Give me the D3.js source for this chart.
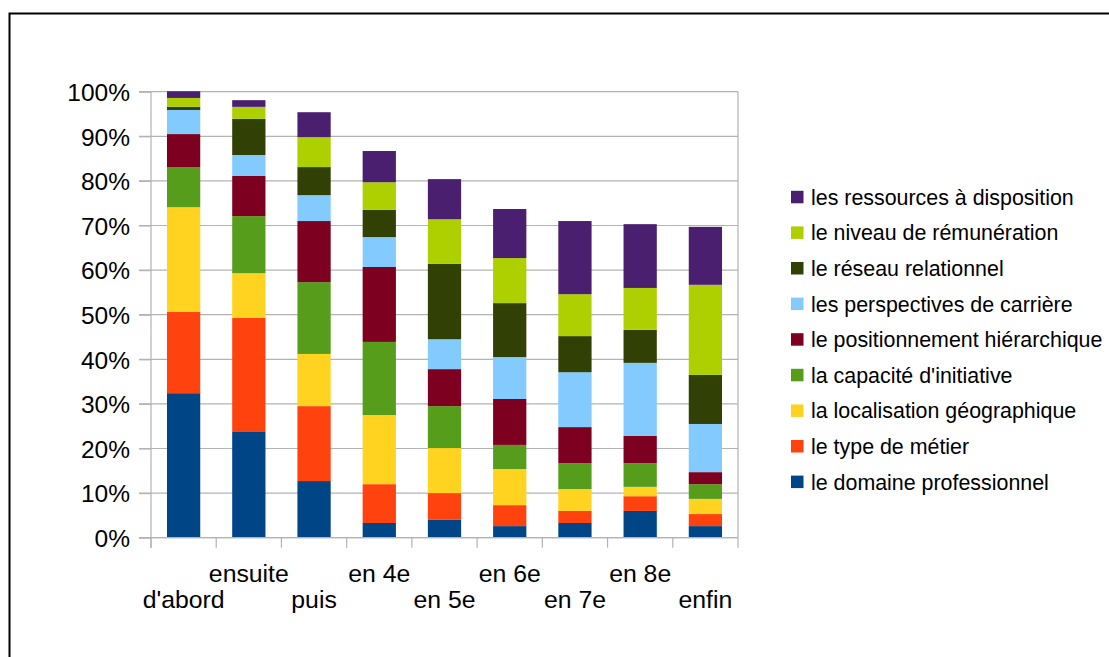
<!DOCTYPE html>
<html><head><meta charset="utf-8">
<script src="https://cdn.jsdelivr.net/npm/d3@7"></script>
<style>body{margin:0;background:#fff}svg{display:block}text{font-family:"Liberation Sans",Arial,sans-serif;fill:#000}</style>
</head><body>
<svg id="c" width="1109" height="657"></svg>
<script>
const categories = ["d'abord","ensuite","puis","en 4e","en 5e","en 6e","en 7e","en 8e","enfin"];
const seriesNames = ["le domaine professionnel","le type de métier","la localisation géographique","la capacité d'initiative","le positionnement hiérarchique","les perspectives de carrière","le réseau relationnel","le niveau de rémunération","les ressources à disposition"];
const seriesColors = ["#004586","#ff420e","#ffd320","#579d1c","#7e0021","#83caff","#314004","#aecf00","#4b1f6f"];
// values in % per series, per category
const domaine      = [32.4, 23.7, 12.7, 3.3, 4.0, 2.6, 3.3, 6.0, 2.6];
const typeMetier   = [18.2, 25.6, 16.8, 8.7, 6.0, 4.7, 2.7, 3.3, 2.7];
const localisation = [23.5, 10.0, 11.7, 15.5, 10.1, 8.1, 4.9, 2.1, 3.4];
const initiative   = [9.0, 12.8, 16.1, 16.4, 9.4, 5.4, 5.8, 5.3, 3.3];
const positionnement = [7.4, 9.0, 13.7, 16.8, 8.3, 10.3, 8.1, 6.1, 2.7];
const perspectives = [5.4, 4.7, 5.8, 6.7, 6.7, 9.4, 12.3, 16.4, 10.8];
const reseau       = [0.7, 8.1, 6.3, 6.1, 16.9, 12.1, 8.1, 7.4, 11.0];
const remuneration = [2.0, 2.7, 6.7, 6.2, 10.0, 10.1, 9.4, 9.4, 20.2];
const ressources   = [1.5, 1.5, 5.6, 7.0, 9.0, 11.0, 16.4, 14.3, 13.0];
const yTicks = [0,10,20,30,40,50,60,70,80,90,100];

const seriesValues = [domaine,typeMetier,localisation,initiative,positionnement,perspectives,reseau,remuneration,ressources];
const table = categories.map((c,i)=>{const o={cat:c}; seriesNames.forEach((s,j)=>o[s]=seriesValues[j][i]); return o;});

const svg = d3.select("#c");
const L=151, R=738, T=91.7, B=537.7;
const x = d3.scaleBand().domain(categories).range([L,R]).padding(0);
const y = d3.scaleLinear().domain([0,100]).range([B,T]);
const color = d3.scaleOrdinal().domain(seriesNames).range(seriesColors);

// outer frame
svg.append("path").attr("d","M9.5,700 V13.5 H1120").attr("fill","none").attr("stroke","#000").attr("stroke-width",2);

// gridlines
svg.append("g").selectAll("line").data(yTicks).join("line")
  .attr("x1",L-12).attr("x2",R).attr("y1",d=>y(d)).attr("y2",d=>y(d))
  .attr("stroke","#b3b3b3").attr("stroke-width",1.2);
// right border
svg.append("line").attr("x1",R).attr("x2",R).attr("y1",T).attr("y2",B).attr("stroke","#b3b3b3").attr("stroke-width",1.2);

// bars
const stack = d3.stack().keys(seriesNames)(table);
const bw = x.bandwidth()*0.51;
svg.append("g").selectAll("g").data(stack).join("g").attr("fill",d=>color(d.key))
  .selectAll("rect").data(d=>d).join("rect")
  .attr("x",d=>x(d.data.cat)+(x.bandwidth()-bw)/2).attr("width",bw)
  .attr("y",d=>y(d[1])).attr("height",d=>y(d[0])-y(d[1]));

// y axis
const yAxis = d3.axisLeft(y).tickValues(yTicks).tickFormat(d=>d+"%").tickSize(12).tickPadding(9);
const gy = svg.append("g").attr("transform",`translate(${L},0)`).call(yAxis);
gy.select(".domain").attr("stroke","#b3b3b3").attr("stroke-width",1.2).attr("d",`M0,${T}V${B+10}`);
gy.selectAll(".tick line").attr("stroke","#b3b3b3").attr("stroke-width",1.2);
gy.selectAll(".tick text").attr("font-size",24.5).attr("font-family","Liberation Sans, Arial, sans-serif").attr("dy","0.36em").attr("fill","#000");

// x axis
const boundaries = d3.range(categories.length+1).map(i=>L+i*x.step());
svg.append("g").selectAll("line").data(boundaries).join("line")
  .attr("x1",d=>d).attr("x2",d=>d).attr("y1",B).attr("y2",B+10)
  .attr("stroke","#b3b3b3").attr("stroke-width",1.2);
svg.append("line").attr("x1",L).attr("x2",R).attr("y1",B).attr("y2",B).attr("stroke","#b3b3b3").attr("stroke-width",1.2);
svg.append("g").selectAll("text").data(categories).join("text")
  .attr("x",d=>x(d)+x.bandwidth()/2).attr("y",(d,i)=>i%2===0?608.3:581.7)
  .attr("text-anchor","middle").attr("font-size",24.8).text(d=>d);

// legend
const leg = svg.append("g");
const legendOrder = seriesNames.slice().reverse();
legendOrder.forEach((s,i)=>{
  const cy = 197 + i*35.6;
  leg.append("rect").attr("x",791).attr("y",cy-6.2).attr("width",12.5).attr("height",12.5).attr("fill",color(s));
  leg.append("text").attr("x",811).attr("y",cy+7.8).attr("font-size",21.4).text(s);
});
</script>
</body></html>
